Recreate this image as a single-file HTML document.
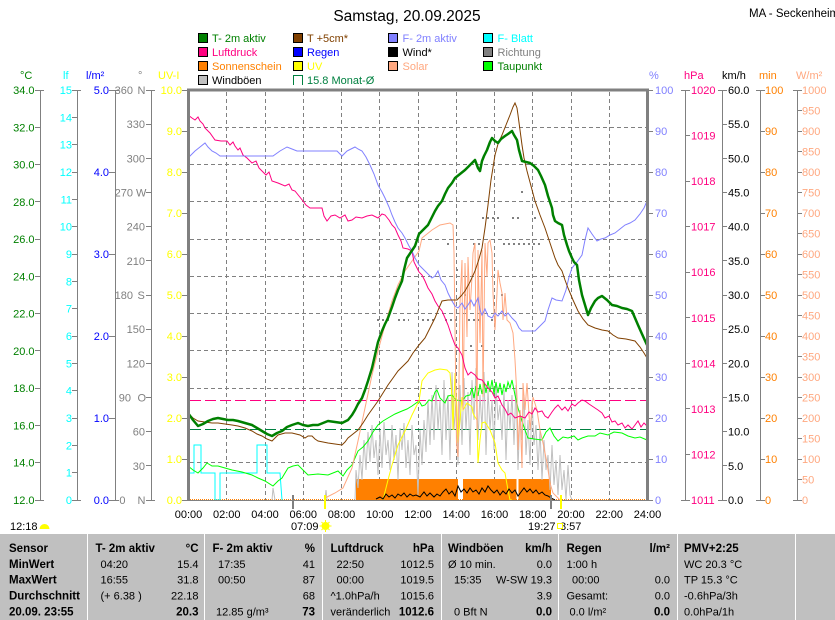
<!DOCTYPE html>
<html><head><meta charset="utf-8"><style>
html,body{margin:0;padding:0;background:#fff;}
svg{display:block;font-family:"Liberation Sans",Arial,sans-serif;}
.t{font-size:11px;}
.b{font-size:11.5px;font-weight:bold;}
</style></head><body>
<svg width="835" height="620" viewBox="0 0 835 620" xmlns="http://www.w3.org/2000/svg">
<rect x="0" y="0" width="835" height="620" fill="#fff"/>
<!-- title -->
<text x="407" y="21" font-size="15.5" text-anchor="middle" fill="#000">Samstag, 20.09.2025</text>
<text x="749" y="17" font-size="11.5" fill="#000">MA - Seckenheim</text>

<!-- legend -->
<g class="t" stroke-width="1">
<rect x="198.5" y="33.5" width="9" height="9" fill="#008000" stroke="#000"/><text x="212" y="42" fill="#008000" stroke="none">T- 2m aktiv</text>
<rect x="293.5" y="33.5" width="9" height="9" fill="#804000" stroke="#000"/><text x="307" y="42" fill="#804000" stroke="none">T +5cm*</text>
<rect x="388.5" y="33.5" width="9" height="9" fill="#8080ff" stroke="#000"/><text x="402.5" y="42" fill="#8080ff" stroke="none">F- 2m aktiv</text>
<rect x="483.5" y="33.5" width="9" height="9" fill="#00ffff" stroke="#000"/><text x="497.5" y="42" fill="#00ffff" stroke="none">F- Blatt</text>

<rect x="198.5" y="47.5" width="9" height="9" fill="#ff0080" stroke="#000"/><text x="212" y="56" fill="#ff0080" stroke="none">Luftdruck</text>
<rect x="293.5" y="47.5" width="9" height="9" fill="#0000ff" stroke="#000"/><text x="307" y="56" fill="#0000ff" stroke="none">Regen</text>
<rect x="388.5" y="47.5" width="9" height="9" fill="#000" stroke="#000"/><text x="402.5" y="56" fill="#000" stroke="none">Wind*</text>
<rect x="483.5" y="47.5" width="9" height="9" fill="#808080" stroke="#000"/><text x="497.5" y="56" fill="#808080" stroke="none">Richtung</text>

<rect x="198.5" y="61.5" width="9" height="9" fill="#ff8000" stroke="#000"/><text x="212" y="70" fill="#ff8000" stroke="none">Sonnenschein</text>
<rect x="293.5" y="61.5" width="9" height="9" fill="#ffff00" stroke="#000"/><text x="307" y="70" fill="#ffff00" stroke="none">UV</text>
<rect x="388.5" y="61.5" width="9" height="9" fill="#ffa880" stroke="#000"/><text x="402.5" y="70" fill="#ffa880" stroke="none">Solar</text>
<rect x="483.5" y="61.5" width="9" height="9" fill="#00ff00" stroke="#000"/><text x="497.5" y="70" fill="#008000" stroke="none">Taupunkt</text>

<rect x="198.5" y="75.5" width="9" height="9" fill="#c0c0c0" stroke="#000"/><text x="212" y="84" fill="#000" stroke="none">Windböen</text>
<path d="M293.5,85 V75.5 H302.5 V85" fill="none" stroke="#008040"/><text x="307" y="84" fill="#008040" stroke="none">15.8 Monat-Ø</text>
</g>

<!-- axis headers -->
<g class="t">
<text x="20" y="79" fill="#008000">°C</text>
<text x="63" y="79" fill="#00ffff">lf</text>
<text x="86" y="79" fill="#0000ff">l/m²</text>
<text x="138" y="79" fill="#808080">°</text>
<text x="158" y="79" fill="#ffff00">UV-I</text>
<text x="649" y="79" fill="#8080ff">%</text>
<text x="684" y="79" fill="#ff0080">hPa</text>
<text x="722" y="79" fill="#000">km/h</text>
<text x="759" y="79" fill="#ff8000">min</text>
<text x="796" y="79" fill="#ffa880">W/m²</text>
</g>

<!-- axis lines and ticks -->
<g stroke="#808080" stroke-width="1" fill="none" shape-rendering="crispEdges">
<path d="M40.5,90V500 M77.5,90V500 M115.5,90V500 M151.5,90V500 M685.5,90V500 M722.5,90V500 M760.5,90V500 M797.5,90V500"/>
<path d="M35,90.5H44 M35,127.5H41 M35,164.5H41 M35,201.5H41 M35,239.5H41 M35,276.5H41 M35,313.5H41 M35,350.5H41 M35,388.5H41 M35,425.5H41 M35,462.5H41 M35,500.5H44"/>
<path d="M72,90.5H81 M72,117.5H78 M72,144.5H78 M72,172.5H78 M72,199.5H78 M72,226.5H78 M72,254.5H78 M72,281.5H78 M72,308.5H78 M72,336.5H78 M72,363.5H78 M72,390.5H78 M72,418.5H78 M72,445.5H78 M72,472.5H78 M72,500.5H81"/>
<path d="M109,90.5H119 M109,172.5H116 M109,254.5H116 M109,336.5H116 M109,418.5H116 M109,500.5H119"/>
<path d="M146,90.5H155 M146,124.5H152 M146,158.5H152 M146,192.5H152 M146,226.5H152 M146,260.5H152 M146,295.5H152 M146,329.5H152 M146,363.5H152 M146,397.5H152 M146,431.5H152 M146,465.5H152 M146,500.5H155"/>
<path d="M182,90.5H188 M182,131.5H188 M182,172.5H188 M182,213.5H188 M182,254.5H188 M182,295.5H188 M182,336.5H188 M182,377.5H188 M182,418.5H188 M182,459.5H188 M182,500.5H188"/>
<path d="M648,90.5H653 M648,131.5H653 M648,172.5H653 M648,213.5H653 M648,254.5H653 M648,295.5H653 M648,336.5H653 M648,377.5H653 M648,418.5H653 M648,459.5H653 M648,500.5H653"/>
<path d="M681,90.5H690 M685,135.5H690 M685,181.5H690 M685,226.5H690 M685,272.5H690 M685,317.5H690 M685,363.5H690 M685,408.5H690 M685,454.5H690 M681,500.5H690"/>
<path d="M718,90.5H727 M722,124.5H727 M722,158.5H727 M722,192.5H727 M722,226.5H727 M722,260.5H727 M722,295.5H727 M722,329.5H727 M722,363.5H727 M722,397.5H727 M722,431.5H727 M722,465.5H727 M718,500.5H727"/>
<path d="M756,90.5H765 M760,131.5H765 M760,172.5H765 M760,213.5H765 M760,254.5H765 M760,295.5H765 M760,336.5H765 M760,377.5H765 M760,418.5H765 M760,459.5H765 M756,500.5H765"/>
<path d="M793,90.5H802 M797,110.5H802 M797,131.5H802 M797,151.5H802 M797,172.5H802 M797,192.5H802 M797,213.5H802 M797,233.5H802 M797,254.5H802 M797,274.5H802 M797,295.5H802 M797,315.5H802 M797,336.5H802 M797,356.5H802 M797,377.5H802 M797,397.5H802 M797,418.5H802 M797,438.5H802 M797,459.5H802 M797,479.5H802 M793,500.5H802"/>
</g>

<!-- axis labels -->
<g class="t" text-anchor="end" fill="#008000">
<text x="34.5" y="94">34.0</text><text x="34.5" y="131.3">32.0</text><text x="34.5" y="168.5">30.0</text><text x="34.5" y="205.8">28.0</text><text x="34.5" y="243.1">26.0</text><text x="34.5" y="280.4">24.0</text><text x="34.5" y="317.6">22.0</text><text x="34.5" y="354.9">20.0</text><text x="34.5" y="392.2">18.0</text><text x="34.5" y="429.5">16.0</text><text x="34.5" y="466.7">14.0</text><text x="34.5" y="504">12.0</text>
</g>
<g class="t" text-anchor="end" fill="#00ffff">
<text x="72" y="94">15</text><text x="72" y="121.3">14</text><text x="72" y="148.7">13</text><text x="72" y="176">12</text><text x="72" y="203.3">11</text><text x="72" y="230.7">10</text><text x="72" y="258">9</text><text x="72" y="285.3">8</text><text x="72" y="312.7">7</text><text x="72" y="340">6</text><text x="72" y="367.3">5</text><text x="72" y="394.7">4</text><text x="72" y="422">3</text><text x="72" y="449.3">2</text><text x="72" y="476.7">1</text><text x="72" y="504">0</text>
</g>
<g class="t" text-anchor="end" fill="#0000ff">
<text x="109" y="94">5.0</text><text x="109" y="176">4.0</text><text x="109" y="258">3.0</text><text x="109" y="340">2.0</text><text x="109" y="422">1.0</text><text x="109" y="504">0.0</text>
</g>
<g class="t" fill="#808080">
<text x="133" y="94" text-anchor="end">360</text><text x="137.5" y="94">N</text>
<text x="145" y="128.2" text-anchor="end">330</text>
<text x="145" y="162.3" text-anchor="end">300</text>
<text x="133" y="196.5" text-anchor="end">270</text><text x="136" y="196.5">W</text>
<text x="145" y="230.7" text-anchor="end">240</text>
<text x="145" y="264.8" text-anchor="end">210</text>
<text x="133" y="299" text-anchor="end">180</text><text x="137.5" y="299">S</text>
<text x="145" y="333.2" text-anchor="end">150</text>
<text x="145" y="367.3" text-anchor="end">120</text>
<text x="131" y="401.5" text-anchor="end">90</text><text x="137.5" y="401.5">O</text>
<text x="145" y="435.7" text-anchor="end">60</text>
<text x="145" y="469.8" text-anchor="end">30</text>
<text x="125.5" y="504" text-anchor="end">0</text><text x="137.5" y="504">N</text>
</g>
<g class="t" text-anchor="end" fill="#ffff00">
<text x="182" y="94">10.0</text><text x="182" y="135">9.0</text><text x="182" y="176">8.0</text><text x="182" y="217">7.0</text><text x="182" y="258">6.0</text><text x="182" y="299">5.0</text><text x="182" y="340">4.0</text><text x="182" y="381">3.0</text><text x="182" y="422">2.0</text><text x="182" y="463">1.0</text><text x="182" y="504">0.0</text>
</g>
<g class="t" fill="#8080ff">
<text x="655" y="94">100</text><text x="655" y="135">90</text><text x="655" y="176">80</text><text x="655" y="217">70</text><text x="655" y="258">60</text><text x="655" y="299">50</text><text x="655" y="340">40</text><text x="655" y="381">30</text><text x="655" y="422">20</text><text x="655" y="463">10</text><text x="655" y="504">0</text>
</g>
<g class="t" fill="#ff0080">
<text x="691" y="94">1020</text><text x="691" y="139.6">1019</text><text x="691" y="185.1">1018</text><text x="691" y="230.7">1017</text><text x="691" y="276.2">1016</text><text x="691" y="321.8">1015</text><text x="691" y="367.3">1014</text><text x="691" y="412.9">1013</text><text x="691" y="458.4">1012</text><text x="691" y="504">1011</text>
</g>
<g class="t" fill="#000">
<text x="728" y="94">60.0</text><text x="728" y="128.2">55.0</text><text x="728" y="162.3">50.0</text><text x="728" y="196.5">45.0</text><text x="728" y="230.7">40.0</text><text x="728" y="264.8">35.0</text><text x="728" y="299">30.0</text><text x="728" y="333.2">25.0</text><text x="728" y="367.3">20.0</text><text x="728" y="401.5">15.0</text><text x="728" y="435.7">10.0</text><text x="728" y="469.8">5.0</text><text x="728" y="504">0.0</text>
</g>
<g class="t" fill="#ff8000">
<text x="765" y="94">100</text><text x="765" y="135">90</text><text x="765" y="176">80</text><text x="765" y="217">70</text><text x="765" y="258">60</text><text x="765" y="299">50</text><text x="765" y="340">40</text><text x="765" y="381">30</text><text x="765" y="422">20</text><text x="765" y="463">10</text><text x="765" y="504">0</text>
</g>
<g class="t" fill="#ffa880">
<text x="802" y="94">1000</text><text x="802" y="114.5">950</text><text x="802" y="135">900</text><text x="802" y="155.5">850</text><text x="802" y="176">800</text><text x="802" y="196.5">750</text><text x="802" y="217">700</text><text x="802" y="237.5">650</text><text x="802" y="258">600</text><text x="802" y="278.5">550</text><text x="802" y="299">500</text><text x="802" y="319.5">450</text><text x="802" y="340">400</text><text x="802" y="360.5">350</text><text x="802" y="381">300</text><text x="802" y="401.5">250</text><text x="802" y="422">200</text><text x="802" y="442.5">150</text><text x="802" y="463">100</text><text x="802" y="483.5">50</text><text x="802" y="504">0</text>
</g>

<!-- gridlines -->
<g stroke="#808080" stroke-width="1" stroke-dasharray="4,3" shape-rendering="crispEdges">
<path d="M190,127.5H646 M190,164.5H646 M190,201.5H646 M190,239.5H646 M190,276.5H646 M190,313.5H646 M190,350.5H646 M190,388.5H646 M190,462.5H646"/>
<path d="M226.5,92V500 M265.5,92V500 M303.5,92V500 M341.5,92V500 M379.5,92V500 M418.5,92V500 M456.5,92V500 M494.5,92V500 M532.5,92V500 M571.5,92V500 M609.5,92V500"/>
</g>

<!-- reference dashed lines -->
<path d="M190,400.5H646" stroke="#ff0080" stroke-width="1" stroke-dasharray="11,4" shape-rendering="crispEdges"/>
<path d="M190,429.5H646" stroke="#008040" stroke-width="1" stroke-dasharray="11,4" shape-rendering="crispEdges"/>

<!-- sunshine bars -->
<g fill="#ff8000" shape-rendering="crispEdges">
<rect x="356" y="479" width="102" height="21"/>
<rect x="463" y="479" width="53.5" height="21"/>
<rect x="518.5" y="479" width="32.5" height="21"/>
</g>
<path d="M190,499.5H646" stroke="#ff8000" stroke-width="1" stroke-dasharray="1,1" shape-rendering="crispEdges"/>

<!-- wind gusts -->
<g fill="none" stroke="#c0c0c0" stroke-width="1">
<polyline points="272,500 273,488 275,500"/>
<polyline points="325,500 326,490 327,500"/>
<polyline points="355,500 356,470 358,488 360,455 362,480 364,440 366,470 368,432 370,462 372,425 374,458 376,440 378,475 380,430 382,468 384,422 386,455 388,440 390,470 392,425 394,460 396,435 398,480 400,428 402,450 404,423 406,468 408,440 410,475 412,425 414,455 416,445 418,495 420,430 422,465 424,420 426,452 428,400 430,445 432,395 434,440 436,385 438,430 440,400 442,455 444,380 446,440 448,395 450,460 452,372 454,430 456,400 458,465 460,385 462,445 464,378 466,430 468,392 470,455 472,380 474,420 476,368 478,440 480,395 482,428 484,372 486,455 488,390 490,430 492,400 494,450 496,385 498,420 500,405 502,440 504,390 506,460 508,400 510,430 512,395 514,445 516,385 518,470 520,410 522,440 524,395 526,455 528,420 530,465 532,400 534,445 536,425 538,470 540,430 542,480 544,440 546,470 548,455 550,490 552,445 554,485 556,460 558,495 560,455 562,490 564,470 566,500 568,465 570,495 572,500"/>
</g>

<!-- wind direction dots -->
<g stroke="#808080" stroke-width="2" stroke-dasharray="2,3" fill="none">
<path d="M377,320H392 M398,320H409 M422,320H436 M445,320H457 M468,320H481 M491,320H494"/>
<path d="M447,244H450 M473,244H481 M503,244H542"/>
<path d="M482,218H502 M512,218H522 M534,218H537"/>
<path d="M521,192H524 M456,270H459 M464,295H467 M501,295H504 M470,346H474 M481,346H484"/>
</g>

<!-- F-Blatt -->
<polyline fill="none" stroke="#00ffff" stroke-width="1" points="188,466 189,473 194,473 194,445 201,445 201,473 215,473 215,500 220,500 220,473 257,473 257,445 267,445 267,473 280,473 282,500"/>

<!-- Taupunkt -->
<polyline fill="none" stroke="#00ff00" stroke-width="1" points="188,466 193,470 198,473 203,468 207,463 212,466 218,466 225,468 232,470 242,472 252,475 258,478 265,481 273,486 278,481 282,478 288,468 293,466 298,465 303,470 308,475 318,474 328,475 338,471 343,476 347,470 352,465 358,451 363,447 368,441 373,432 378,425 383,421 388,418 395,414 402,411 407,409 412,406 419,401 422,406 425,405 429,400 432,401 435,392 437,390 440,398 445,403 448,396 452,395 456,400 462,401 466,396 470,395 472,388 474,398 476,386 478,396 480,384 482,394 484,382 486,393 488,381 490,392 492,380 494,394 496,382 498,393 500,383 502,395 504,384 506,392 508,382 510,388 512,380 515,395 518,408 522,421 525,430 528,438 534,439 542,440 546,432 550,428 554,436 558,441 563,437 568,438 574,436 578,440 582,438 588,436 595,436 600,433 608,435 614,432 622,433 628,436 635,438 640,437 647,440"/>

<!-- UV -->
<polyline fill="none" stroke="#ffff00" stroke-width="1" points="383,500 388,480 392,465 398,445 405,431 412,415 419,401 422,381 428,373 435,370 440,369 447,370 450,373 452,397 453,430 455,373 457,410 458,443 460,420 462,397 463,410 467,403 472,407 473,413 475,417 477,420 478,463 480,440 482,423 485,422 490,430 495,443 498,463 502,470 505,473 508,490 510,500 512,500"/>

<!-- Solar -->
<polyline fill="none" stroke="#ffa880" stroke-width="1" points="325,498 335,493 343,488 352,468 358,441 365,408 372,375 378,351 385,325 392,301 398,285 405,271 412,261 419,251 422,238 432,230 440,225 450,223 453,225 454,253 456.5,443 458,457 460,303 462,260 463,410 465,263 467,337 468,257 470,310 472,277 473,253 475,243 477,430 478,250 480,343 482,250 483,397 485,243 487,277 488,243 490,240 492,253 493,293 495,330 497,293 498,270 500,283 502,293 503,320 505,293 507,320 510,323 513,333 515,360 517,397 518,450 520,410 522,468 523,383 525,410 527,383 530,430 533,397 537,410 540,430 543,443 547,463 550,483 553,493 560,500"/>

<!-- Wind -->
<polyline fill="none" stroke="#000" stroke-width="1" points="376,499 380,497 383,499 386,494 389,497 392,495 395,498 398,494 401,496 404,493 407,497 410,494 413,496 416,495 420,497 424,492 427,496 430,493 434,497 437,494 440,496 443,492 446,489 449,494 452,491 455,496 458,486 461,492 464,489 467,493 470,488 473,492 476,490 479,494 482,488 485,492 488,486 491,490 494,493 497,490 500,495 503,491 506,494 509,489 512,493 515,490 518,496 521,492 524,488 527,492 530,489 533,493 536,490 539,494 542,492 545,495 548,496 551,498 555,500"/>

<!-- Luftdruck -->
<polyline fill="none" stroke="#ff0080" stroke-width="1" points="188,115 192,118 195,120 198,117 200,121 203,124 205,128 210,133 215,140 221,141 227,141 230,145 233,142 235,146 238,150 240,148 243,155 247,158 252,163 256,161 259,168 262,171 266,175 269,172 272,181 278,183 285,186 289,184 292,190 295,191 299,196 303,201 306,205 310,208 316,208 322,208 324,216 327,221 331,216 335,215 340,218 345,215 348,221 352,220 356,217 362,218 367,216 372,215 378,218 382,214 385,215 389,220 392,225 395,228 398,235 401,241 403,248 408,249 412,251 414,262 416,266 419,272 422,275 425,281 428,288 432,294 435,301 438,306 442,311 445,318 448,325 452,337 455,345 458,348 462,355 465,368 468,375 471,372 475,375 478,379 482,380 485,384 488,388 492,392 495,398 498,396 502,405 505,409 508,415 511,413 515,418 520,416 525,418 529,412 532,414 535,408 538,412 542,411 545,416 548,418 552,412 555,408 558,405 562,410 565,407 568,411 572,404 575,406 578,403 582,400 585,401 589,404 592,406 595,408 598,410 602,413 605,418 609,416 612,422 615,421 618,425 622,423 625,428 628,425 632,429 635,425 638,421 641,427 644,423 647,426"/>

<!-- F-2m aktiv -->
<polyline fill="none" stroke="#8080ff" stroke-width="1" points="188,158 191,155 195,151 200,147 205,143 208,147 212,151 216,153 220,156 273,156 280,151 287,147 292,149 297,151 337,151 342,156 347,151 351,149 355,147 358,149 362,151 366,157 370,165 374,174 378,185 382,192 385,198 389,207 392,215 395,222 398,228 402,233 405,238 409,246 412,251 415,258 419,265 422,268 427,273 432,278 435,276 438,271 441,280 445,285 448,293 452,301 455,306 458,308 462,303 465,309 468,305 471,300 474,306 478,298 480,310 482,315 485,309 488,316 492,318 495,313 498,316 502,311 505,316 508,313 512,318 516,322 519,328 522,331 528,331 535,331 540,326 545,321 548,310 552,298 556,300 562,301 566,290 569,277 572,268 577,262 582,255 585,240 588,228 592,234 597,241 601,239 605,238 610,235 615,233 620,229 625,225 630,223 635,220 640,214 644,208 647,201"/>

<!-- T +5cm -->
<polyline fill="none" stroke="#804000" stroke-width="1" points="188,413 193,418 198,421 205,422 212,423 218,423 225,424 232,425 238,426 245,428 252,431 257,434 262,436 267,439 272,441 275,438 278,435 285,433 292,433 300,435 305,438 308,436 312,436 315,439 318,441 323,442 328,443 335,444 342,445 345,442 348,438 353,434 358,430 363,423 368,415 373,408 378,401 383,393 388,385 393,378 398,371 403,366 408,361 413,353 419,345 425,338 430,328 435,318 439,308 442,301 448,300 457,300 461,296 465,291 470,282 475,271 479,259 482,248 485,228 488,205 491,180 495,155 498,144 502,135 506,125 510,115 513,107 515,103 517,108 518,115 520,130 522,145 524,158 527,171 531,186 535,201 540,215 545,228 550,243 555,258 558,265 562,271 565,280 568,288 573,300 578,311 583,319 588,325 595,328 602,330 608,331 613,335 618,338 626,339 635,341 640,347 644,353 647,358"/>

<!-- T 2m aktiv -->
<polyline fill="none" stroke="#008000" stroke-width="2.5" stroke-linejoin="round" points="188,413 193,420 198,426 203,424 208,421 213,419 218,418 223,419 228,420 233,420 238,421 245,423 252,425 257,428 262,431 267,434 272,436 277,433 282,431 287,427 292,425 298,423 303,425 308,426 313,425 318,425 323,423 328,421 335,422 342,423 348,420 352,415 355,410 358,404 362,398 365,390 368,381 372,368 375,355 378,342 382,331 385,324 388,318 392,307 395,298 398,290 402,281 404,270 407,258 411,252 415,246 417,240 419,234 423,230 428,225 432,217 435,211 438,206 442,201 445,194 448,188 452,183 455,178 460,174 465,170 470,165 475,160 478,168 480,171 482,161 484,156 487,150 490,142 492,138 495,141 498,143 501,139 505,136 508,134 512,131 514,135 517,140 519,150 522,161 526,162 530,163 534,166 538,170 541,176 545,185 548,196 552,208 553,215 555,221 558,223 562,225 564,235 567,245 569,251 572,258 574,262 577,265 579,280 582,295 585,305 588,315 591,308 595,301 598,298 602,296 607,300 612,305 617,306 622,308 627,309 632,311 635,318 638,325 642,334 647,345"/>

<!-- plot frame -->
<g fill="none" stroke="#808080" shape-rendering="crispEdges">
<path d="M188.5,500 V90 H647.5 V500" stroke-width="3"/>
<path d="M187,500.5 H649" stroke-width="1"/>
</g>

<!-- sunrise / sunset markers -->
<g shape-rendering="crispEdges">
<rect x="292" y="495" width="2" height="14" fill="#808080"/>
<rect x="324" y="495" width="2" height="14" fill="#ffff00"/>
<rect x="550" y="495" width="2" height="14" fill="#808080"/>
<rect x="560" y="495" width="2" height="14" fill="#ffff00"/>
</g>

<!-- x axis labels -->
<g class="t" text-anchor="middle" fill="#000">
<text x="188.5" y="518">00:00</text><text x="226.75" y="518">02:00</text><text x="265" y="518">04:00</text><text x="303.25" y="518">06:00</text><text x="341.5" y="518">08:00</text><text x="379.75" y="518">10:00</text><text x="418" y="518">12:00</text><text x="456.25" y="518">14:00</text><text x="494.5" y="518">16:00</text><text x="532.75" y="518">18:00</text><text x="571" y="518">20:00</text><text x="609.25" y="518">22:00</text><text x="647.5" y="518">24:00</text>
</g>
<g class="t" fill="#000">
<text x="10" y="530">12:18</text>
<text x="291" y="530">07:09</text>
<text x="528" y="530">19:27</text>
<text x="560" y="530">8:57</text>
</g>
<path d="M39.5,529 A5,5 0 0 1 49.5,529 Z" fill="#ffff00"/>
<g stroke="#ffff00" stroke-width="1">
<circle cx="325.5" cy="526" r="3.5" fill="#ffff00"/>
<path d="M325.5,520V522 M325.5,530V532 M319.5,526H321.5 M329.5,526H331.5 M321.5,522L322.7,523.2 M329.5,522L328.3,523.2 M321.5,530L322.7,528.8 M329.5,530L328.3,528.8"/>
</g>
<rect x="557.5" y="523.5" width="5" height="5" fill="#fff" stroke="#ffff00" stroke-width="1"/>

<!-- bottom table -->
<rect x="0" y="534" width="835" height="86" fill="#c0c0c0"/>
<g stroke="#fff" stroke-width="1" shape-rendering="crispEdges">
<path d="M87.5,534V620 M204.5,534V620 M322.5,534V620 M441.5,534V620 M558.5,534V620 M677.5,534V620 M795.5,534V620"/>
</g>
<g fill="#000">
<g class="b">
<text x="9" y="552">Sensor</text>
<text x="9" y="568">MinWert</text>
<text x="9" y="583.5">MaxWert</text>
<text x="9" y="599.5">Durchschnitt</text>
<text x="9" y="615.5">20.09. 23:55</text>
<text x="95.5" y="552">T- 2m aktiv</text>
<text x="198.5" y="552" text-anchor="end">°C</text>
<text x="198.5" y="615.5" text-anchor="end">20.3</text>
<text x="212.5" y="552">F- 2m aktiv</text>
<text x="315" y="552" text-anchor="end">%</text>
<text x="315" y="615.5" text-anchor="end">73</text>
<text x="330.5" y="552">Luftdruck</text>
<text x="434" y="552" text-anchor="end">hPa</text>
<text x="434" y="615.5" text-anchor="end">1012.6</text>
<text x="448" y="552">Windböen</text>
<text x="552" y="552" text-anchor="end">km/h</text>
<text x="552" y="615.5" text-anchor="end">0.0</text>
<text x="566.5" y="552">Regen</text>
<text x="670" y="552" text-anchor="end">l/m²</text>
<text x="670" y="615.5" text-anchor="end">0.0</text>
<text x="684" y="552">PMV+2:25</text>
</g>
<g class="t">
<text x="100.5" y="568">04:20</text><text x="198.5" y="568" text-anchor="end">15.4</text>
<text x="100.5" y="583.5">16:55</text><text x="198.5" y="583.5" text-anchor="end">31.8</text>
<text x="100.5" y="599.5">(+ 6.38 )</text><text x="198.5" y="599.5" text-anchor="end">22.18</text>

<text x="218" y="568">17:35</text><text x="315" y="568" text-anchor="end">41</text>
<text x="218" y="583.5">00:50</text><text x="315" y="583.5" text-anchor="end">87</text>
<text x="315" y="599.5" text-anchor="end">68</text>
<text x="216" y="615.5">12.85 g/m³</text>

<text x="336.5" y="568">22:50</text><text x="434" y="568" text-anchor="end">1012.5</text>
<text x="336.5" y="583.5">00:00</text><text x="434" y="583.5" text-anchor="end">1019.5</text>
<text x="330.5" y="599.5">^1.0hPa/h</text><text x="434" y="599.5" text-anchor="end">1015.6</text>
<text x="330.5" y="615.5">veränderlich</text>

<text x="448" y="568">Ø 10 min.</text><text x="552" y="568" text-anchor="end">0.0</text>
<text x="454" y="583.5">15:35</text><text x="552" y="583.5" text-anchor="end">W-SW 19.3</text>
<text x="552" y="599.5" text-anchor="end">3.9</text>
<text x="454" y="615.5">0 Bft N</text>

<text x="566.5" y="568">1:00 h</text>
<text x="572" y="583.5">00:00</text><text x="670" y="583.5" text-anchor="end">0.0</text>
<text x="566.5" y="599.5">Gesamt:</text><text x="670" y="599.5" text-anchor="end">0.0</text>
<text x="569.5" y="615.5">0.0 l/m²</text>

<text x="684" y="568">WC 20.3 °C</text>
<text x="684" y="583.5">TP 15.3 °C</text>
<text x="684" y="599.5">-0.6hPa/3h</text>
<text x="684" y="615.5">0.0hPa/1h</text>
</g>
</g>
</svg>
</body></html>
